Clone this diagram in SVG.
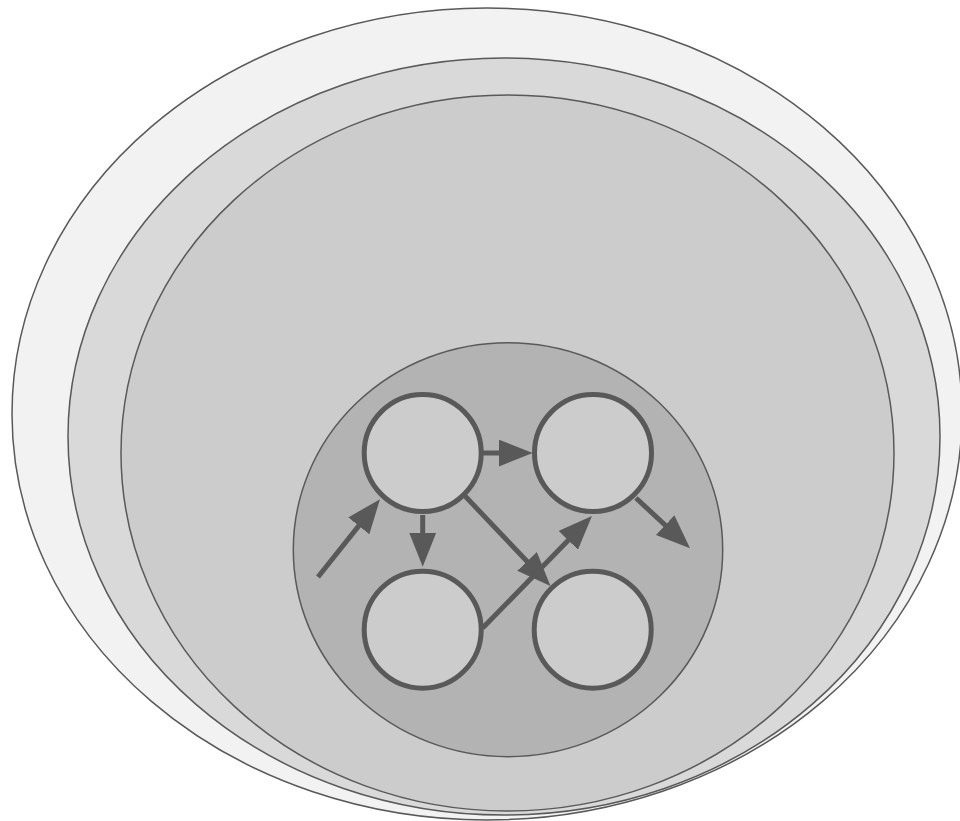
<svg xmlns="http://www.w3.org/2000/svg" width="960" height="821" viewBox="0 0 960 821">
<defs>
<style>
.layer{stroke:#595959;stroke-width:1.5}
.node{fill:#cccccc;stroke:#595959;stroke-width:5}
.edge{fill:none;stroke:#595959;stroke-width:5}
</style>
<marker id="ah" markerUnits="userSpaceOnUse" markerWidth="34" markerHeight="27" refX="14" refY="13.5" orient="auto" viewBox="0 0 34 27">
<path d="M0,0 L34,13.5 L0,27 z" fill="#595959"/>
</marker>
</defs>
<rect width="960" height="821" fill="#ffffff"/>
<g id="layer-outer"><ellipse class="layer" cx="487" cy="414" rx="475" ry="406" fill="#f2f2f2"/></g>
<g id="layer-second"><ellipse class="layer" cx="504" cy="436.5" rx="436" ry="378.5" fill="#d9d9d9"/></g>
<g id="layer-third"><ellipse class="layer" cx="507.5" cy="453" rx="386.5" ry="358" fill="#cccccc"/></g>
<g id="layer-inner"><ellipse class="layer" cx="508" cy="549.7" rx="214.7" ry="207" fill="#b3b3b3"/></g>
<g id="connectors">
<line class="edge" x1="318" y1="577" x2="367.5" y2="514.9" marker-end="url(#ah)"/>
<line class="edge" x1="483" y1="453" x2="512.7" y2="453" marker-end="url(#ah)"/>
<line class="edge" x1="422.7" y1="515" x2="422.7" y2="546.7" marker-end="url(#ah)"/>
<line class="edge" x1="465" y1="496" x2="536.7" y2="571.5" marker-end="url(#ah)"/>
<line class="edge" x1="482.7" y1="628" x2="578" y2="530.3" marker-end="url(#ah)"/>
<line class="edge" x1="636" y1="498" x2="675.4" y2="534.7" marker-end="url(#ah)"/>
</g>
<g id="node-tl"><circle class="node" cx="422.7" cy="453" r="58.5"/></g>
<g id="node-tr"><circle class="node" cx="593" cy="453" r="58.5"/></g>
<g id="node-bl"><circle class="node" cx="422.7" cy="629.7" r="58.5"/></g>
<g id="node-br"><circle class="node" cx="592.7" cy="629.7" r="58.5"/></g>
</svg>
